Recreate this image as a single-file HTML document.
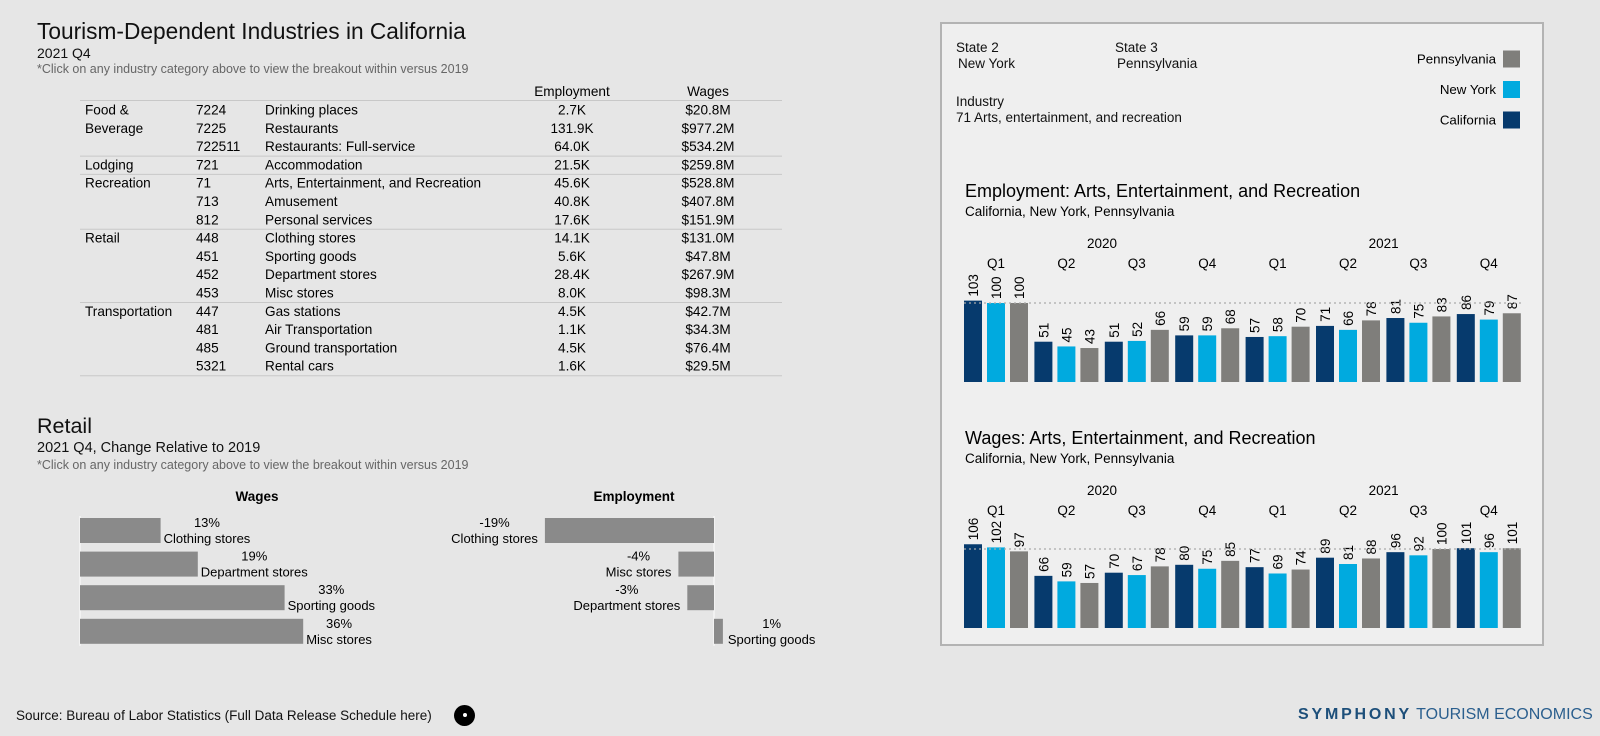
<!DOCTYPE html>
<html><head><meta charset="utf-8"><style>
body{margin:0;width:1600px;height:736px;background:#e6e6e6;font-family:"Liberation Sans","DejaVu Sans",sans-serif;overflow:hidden;position:relative;color:#111}
.a{position:absolute;white-space:nowrap}
#panel{position:absolute;left:940px;top:22px;width:604px;height:624px;border:2px solid #b3b3b3;background:#efefef;box-sizing:border-box}
</style></head><body>
<div class="a" style="left:37px;top:18px;font-size:22.7px">Tourism-Dependent Industries in California</div>
<div class="a" style="left:37px;top:45px;font-size:14px">2021 Q4</div>
<div class="a" style="left:37px;top:62px;font-size:12.5px;color:#666">*Click on any industry category above to view the breakout within versus 2019</div>

<svg class="a" style="left:0;top:0" width="800" height="380" id="tbl"></svg>

<div class="a" style="left:37px;top:414px;font-size:21.5px">Retail</div>
<div class="a" style="left:37px;top:440px;font-size:14.5px">2021 Q4, Change Relative to 2019</div>
<div class="a" style="left:37px;top:458px;font-size:12.5px;color:#666">*Click on any industry category above to view the breakout within versus 2019</div>
<svg class="a" style="left:0;top:480px" width="900" height="180" id="retail"></svg>

<div class="a" style="left:16px;top:708px;font-size:13.5px">Source: Bureau of Labor Statistics (Full Data Release Schedule here)</div>
<div class="a" style="left:454px;top:705px;width:21px;height:21px;border-radius:50%;background:#000"><div style="position:absolute;left:9px;top:8px;width:4px;height:4px;border-radius:50%;background:#fff"></div></div>
<div class="a" style="left:1298px;top:706px;font-size:16px;color:#1f4e79"><b style="letter-spacing:2.8px;color:#1d4f7a">SYMPHONY</b> <span style="color:#2b5f8e">TOURISM ECONOMICS</span></div>

<div id="panel">
<div class="a" style="left:14px;top:16px;font-size:13.5px">State 2</div>
<div class="a" style="left:16px;top:32px;font-size:13.5px">New York</div>
<div class="a" style="left:173px;top:16px;font-size:13.5px">State 3</div>
<div class="a" style="left:175px;top:32px;font-size:13.5px">Pennsylvania</div>
<div class="a" style="left:14px;top:70px;font-size:13.5px">Industry</div>
<div class="a" style="left:14px;top:86px;font-size:13.5px">71 Arts, entertainment, and recreation</div>
</div>
<svg class="a" style="left:0;top:0" width="1600" height="736" id="rc"></svg>

<script>
const NS='http://www.w3.org/2000/svg';
function mk(p,t,a,txt){const e=document.createElementNS(NS,t);for(const k in a)e.setAttribute(k,a[k]);if(txt!==undefined)e.textContent=txt;p.appendChild(e);return e;}

// ---------- table ----------
const groups=["Food &\nBeverage","","","Lodging","Recreation","","","Retail","","","","Transportation","","",""];
const codes=["7224","7225","722511","721","71","713","812","448","451","452","453","447","481","485","5321"];
const names=["Drinking places","Restaurants","Restaurants: Full-service","Accommodation","Arts, Entertainment, and Recreation","Amusement","Personal services","Clothing stores","Sporting goods","Department stores","Misc stores","Gas stations","Air Transportation","Ground transportation","Rental cars"];
const emp=["2.7K","131.9K","64.0K","21.5K","45.6K","40.8K","17.6K","14.1K","5.6K","28.4K","8.0K","4.5K","1.1K","4.5K","1.6K"];
const wages=["$20.8M","$977.2M","$534.2M","$259.8M","$528.8M","$407.8M","$151.9M","$131.0M","$47.8M","$267.9M","$98.3M","$42.7M","$34.3M","$76.4M","$29.5M"];
const groupEnds=[2,3,6,10,14];
const T=document.getElementById('tbl');
const fs='font-size:13.6px';
let t=mk(T,'text',{x:572,y:96,'text-anchor':'middle',style:fs},'Employment');
t=mk(T,'text',{x:708,y:96,'text-anchor':'middle',style:fs},'Wages');
mk(T,'line',{x1:80,x2:782,y1:100.5,y2:100.5,stroke:'#c8c8c8'});
const r0=114.5,rs=18.3;
codes.forEach((c,i)=>{
  const y=r0+i*rs;
  const g=mk(T,'g',{style:fs});
  
  
  if(groups[i]){groups[i].split('\n').forEach((s,j)=>mk(g,'text',{x:85,y:y+j*rs},s));}
  mk(g,'text',{x:196,y:y},c);
  mk(g,'text',{x:265,y:y},names[i]);
  mk(g,'text',{x:572,y:y,'text-anchor':'middle'},emp[i]);
  mk(g,'text',{x:708,y:y,'text-anchor':'middle'},wages[i]);
  if(groupEnds.includes(i))mk(T,'line',{x1:80,x2:782,y1:y+5,y2:y+5,stroke:'#c8c8c8'});
});

// ---------- retail bars ----------
const wageCats=["Clothing stores","Department stores","Sporting goods","Misc stores"];
const wageVals=[13,19,33,36];
const empCats=["Clothing stores","Misc stores","Department stores","Sporting goods"];
const empVals=[-19,-4,-3,1];
const R=document.getElementById('retail');
t=mk(R,'text',{x:257,y:21,'text-anchor':'middle','font-weight':'bold','font-size':13.5},'Wages');
t=mk(R,'text',{x:634,y:21,'text-anchor':'middle','font-weight':'bold','font-size':13.5},'Employment');
const wx=v=>80+v*6.2, ex=v=>714+v*8.9;
const by=i=>38+i*33.6, bh=25;
mk(R,'line',{x1:80,x2:80,y1:36,y2:38+3*33.6+bh+2,stroke:'#fff'});
mk(R,'line',{x1:714,x2:714,y1:36,y2:38+3*33.6+bh+2,stroke:'#fff'});
wageVals.forEach((v,i)=>{
  const b=mk(R,'rect',{x:wx(0),y:by(i),width:wx(v)-wx(0),height:bh,fill:'#8a8a8a'});
  
  
  const n=mk(R,'text',{x:wx(v)+3,y:by(i)+25,'font-size':13},wageCats[i]);
  const w=n.getComputedTextLength();
  mk(R,'text',{x:wx(v)+3+w/2,y:by(i)+9,'font-size':13,'text-anchor':'middle'},v+'%');
});
empVals.forEach((v,i)=>{
  const x0=Math.min(ex(0),ex(v)),w=Math.abs(ex(v)-ex(0));
  const b=mk(R,'rect',{x:x0,y:by(i),width:w,height:bh,fill:'#8a8a8a'});
  
  
  if(v<0){
    const n=mk(R,'text',{x:ex(v)-7,y:by(i)+25,'font-size':13,'text-anchor':'end'},empCats[i]);
    const tw=n.getComputedTextLength();
    mk(R,'text',{x:ex(v)-7-tw/2,y:by(i)+9,'font-size':13,'text-anchor':'middle'},v+'%');
  }else{
    const n=mk(R,'text',{x:ex(v)+5,y:by(i)+25,'font-size':13},empCats[i]);
    const tw=n.getComputedTextLength();
    mk(R,'text',{x:ex(v)+5+tw/2,y:by(i)+9,'font-size':13,'text-anchor':'middle'},v+'%');
  }
});

// ---------- right charts ----------
const states=["Pennsylvania","New York","California"];
const colors={California:'#063a6d',"New York":'#00aadf',Pennsylvania:'#7f7e7b'};
const quarters=["Q1","Q2","Q3","Q4","Q1","Q2","Q3","Q4"];
const years=["2020","2021"];
const empCA=[103,51,51,59,57,71,81,86];
const empNY=[100,45,52,59,58,66,75,79];
const empPA=[100,43,66,68,70,78,83,87];
const wagCA=[106,66,70,80,77,89,96,101];
const wagNY=[102,59,67,75,69,81,92,96];
const wagPA=[97,57,78,85,74,88,100,101];
const C=document.getElementById('rc');
states.forEach((s,i)=>{
  const y=59+i*30.5;
  t=mk(C,'text',{x:1496,y:y+4.5,'text-anchor':'end','font-size':13.3},s);
  const r=mk(C,'rect',{x:1503,y:y-8.5,width:17,height:17,fill:colors[s]});
  
  
});
function chart(name,title,top,bottom,ca,ny,pa){
  const g=mk(C,'g',{});
  
  
  mk(g,'text',{x:965,y:top,'font-size':18},title);
  mk(g,'text',{x:965,y:top+19,'font-size':13.5},'California, New York, Pennsylvania');
  const gx=q=>964+q*70.4;
  const yv=v=>bottom-v*0.79;
  years.forEach((yr,k)=>mk(g,'text',{x:gx(k*4)+138,y:top+51,'font-size':13.5,'text-anchor':'middle'},yr));
  quarters.forEach((q,k)=>mk(g,'text',{x:gx(k)+32,y:top+71,'font-size':13.5,'text-anchor':'middle'},q));
  const series=[ca,ny,pa],cols=[colors.California,colors["New York"],colors.Pennsylvania];
  quarters.forEach((q,k)=>{
    series.forEach((arr,j)=>{
      const x=gx(k)+j*23,v=arr[k];
      const b=mk(g,'rect',{x:x,y:yv(v),width:18,height:bottom-yv(v),fill:cols[j]});
      
      
      mk(g,'text',{x:0,y:0,'font-size':13.5,transform:`translate(${x+14},${yv(v)-4}) rotate(-90)`},String(v));
    });
  });
  mk(g,'line',{x1:964,x2:1522,y1:yv(100),y2:yv(100),stroke:'#aaa','stroke-dasharray':'2 3','stroke-width':1.3});
}
chart('employment-chart','Employment: Arts, Entertainment, and Recreation',197,382,empCA,empNY,empPA);
chart('wages-chart','Wages: Arts, Entertainment, and Recreation',444,628,wagCA,wagNY,wagPA);
</script>
</body></html>
